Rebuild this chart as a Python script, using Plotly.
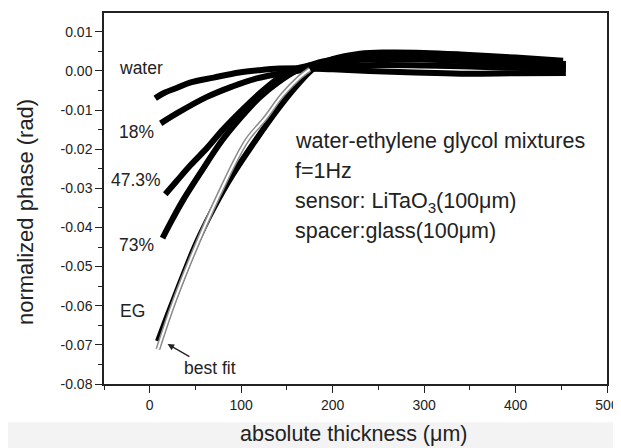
import plotly.graph_objects as go

# ---- data ----
water_t = [6, 15, 30, 44, 70, 98, 120, 142, 170, 200, 240, 290, 340, 400, 455]
water_p = [-0.0070, -0.0057, -0.0043, -0.0030, -0.0017, -0.0004, 0.0002, 0.0006, 0.0007,
           0.0004, 0.0000, -0.0004, -0.0007, -0.0006, -0.0005]

p18_t = [12, 30, 62, 90, 117, 153, 180, 210, 250, 300, 350, 400, 455]
p18_p = [-0.0134, -0.0108, -0.0067, -0.0040, -0.0019, -0.0003, 0.0006, 0.0012, 0.0015,
         0.0014, 0.0011, 0.0008, 0.0005]

p473_t = [17, 30, 45, 63, 80, 100, 120, 140, 160, 185, 215, 250, 300, 350, 400, 455]
p473_p = [-0.0315, -0.0280, -0.0240, -0.0196, -0.0150, -0.0102, -0.0058, -0.0020, 0.0005,
          0.0018, 0.0026, 0.0030, 0.0029, 0.0024, 0.0018, 0.0012]

p73_t = [14, 25, 36, 55, 79, 100, 120, 140, 160, 185, 215, 250, 300, 350, 400, 455]
p73_p = [-0.0427, -0.0378, -0.0332, -0.0262, -0.0178, -0.0118, -0.0068, -0.0030, 0.0000,
         0.0022, 0.0034, 0.0039, 0.0037, 0.0031, 0.0025, 0.0018]

eg_t = [9, 20, 30, 47, 55, 70, 90, 115, 140, 160, 180, 200, 230, 260, 300, 340, 400, 452]
eg_p = [-0.0691, -0.0622, -0.0562, -0.0462, -0.0420, -0.0350, -0.0268, -0.0180, -0.0098,
        -0.0040, 0.0008, 0.0030, 0.0044, 0.0047, 0.0046, 0.0042, 0.0034, 0.0026]

fit_t = [9, 25, 44, 75, 106, 126, 145, 164, 175]
fit_p = [-0.0711, -0.0600, -0.0486, -0.0320, -0.0178, -0.0122, -0.0062, -0.0016, 0.0004]

x_ticks = [0, 100, 200, 300, 400, 500]
y_ticks = [0.01, 0.00, -0.01, -0.02, -0.03, -0.04, -0.05, -0.06, -0.07, -0.08]
y_tick_text = ["0.01", "0.00", "-0.01", "-0.02", "-0.03", "-0.04", "-0.05", "-0.06", "-0.07", "-0.08"]

labels = ["water", "18%", "47.3%", "73%", "EG"]
label_x = [-10, -14, -15, -14, -19]
label_y = [0.0007, -0.0157, -0.0278, -0.0445, -0.0613]

info_lines = ["water-ethylene glycol mixtures", "f=1Hz",
              "sensor: LiTaO<sub>3</sub>(100\u03bcm)", "spacer:glass(100\u03bcm)"]
info_y = [-0.0178, -0.0255, -0.0337, -0.0409]

FONT = "Liberation Sans, Arial, sans-serif"
TXT = "#222"

fig = go.Figure()
for t, p in [(water_t, water_p), (p18_t, p18_p), (p473_t, p473_p), (p73_t, p73_p), (eg_t, eg_p)]:
    fig.add_trace(go.Scatter(x=t, y=p, mode="lines", line=dict(color="black", width=6, shape="spline"),
                             showlegend=False, hoverinfo="skip"))
fig.add_trace(go.Scatter(x=fit_t, y=fit_p, mode="lines", line=dict(color="#8a8a8a", width=5, shape="spline"),
                         showlegend=False, hoverinfo="skip"))
fig.add_trace(go.Scatter(x=fit_t, y=fit_p, mode="lines", line=dict(color="white", width=2, shape="spline"),
                         showlegend=False, hoverinfo="skip"))

for lab, lx, ly in zip(labels, label_x, label_y):
    fig.add_annotation(x=lx, y=ly, text=lab, showarrow=False, font=dict(family=FONT, size=17.5, color=TXT),
                       xanchor="center", yanchor="middle")

for line, ly in zip(info_lines, info_y):
    fig.add_annotation(x=157, y=ly, text=line, showarrow=False, font=dict(family=FONT, size=21.5, color=TXT),
                       xanchor="left", yanchor="middle")

# best fit label with arrow pointing to the fit curve
fig.add_annotation(x=19.5, y=-0.0698, text="best fit", showarrow=True, ax=42, ay=24,
                   font=dict(family=FONT, size=17.5, color=TXT),
                   arrowhead=2, arrowsize=1, arrowwidth=1.3, arrowcolor=TXT, standoff=0)

# axis titles
fig.add_annotation(xref="paper", yref="paper", x=0.496, y=-0.1335, text="absolute thickness (\u03bcm)",
                   showarrow=False, font=dict(family=FONT, size=21.5, color=TXT),
                   xanchor="center", yanchor="middle")
fig.add_annotation(xref="paper", yref="paper", x=-0.157, y=0.4636, text="normalized phase (rad)",
                   showarrow=False, textangle=-90, font=dict(family=FONT, size=22, color=TXT),
                   xanchor="center", yanchor="middle")

fig.add_shape(type="rect", xref="paper", yref="paper", x0=-0.25, x1=1.1, y0=-0.103, y1=-0.2,
              fillcolor="#f3f3f3", line=dict(width=0), layer="below")

# the page body adds an 8px offset; figure sized so the plot lands where the reference has it
fig.update_layout(
    width=613, height=440,
    margin=dict(l=96, r=14, t=5, b=64, autoexpand=False),
    paper_bgcolor="white", plot_bgcolor="white",
    font=dict(family=FONT, color=TXT),
    xaxis=dict(range=[-50, 500], tickvals=x_ticks, ticks="outside", ticklen=7, tickwidth=1.3,
               tickcolor=TXT, showline=True, linecolor=TXT, linewidth=1.5, mirror=True,
               showgrid=False, zeroline=False, tickfont=dict(size=14), automargin=False,
               minor=dict(dtick=50, tick0=0, ticks="outside", ticklen=4, tickcolor=TXT)),
    yaxis=dict(range=[-0.08, 0.0148], tickvals=y_ticks, ticktext=y_tick_text, ticks="outside",
               ticklen=7, tickwidth=1.3, tickcolor=TXT, showline=True, linecolor=TXT,
               linewidth=1.5, mirror=True, showgrid=False, zeroline=False, tickfont=dict(size=14),
               automargin=False,
               minor=dict(dtick=0.005, tick0=0, ticks="outside", ticklen=4, tickcolor=TXT)),
)

fig.write_html("out.html")
